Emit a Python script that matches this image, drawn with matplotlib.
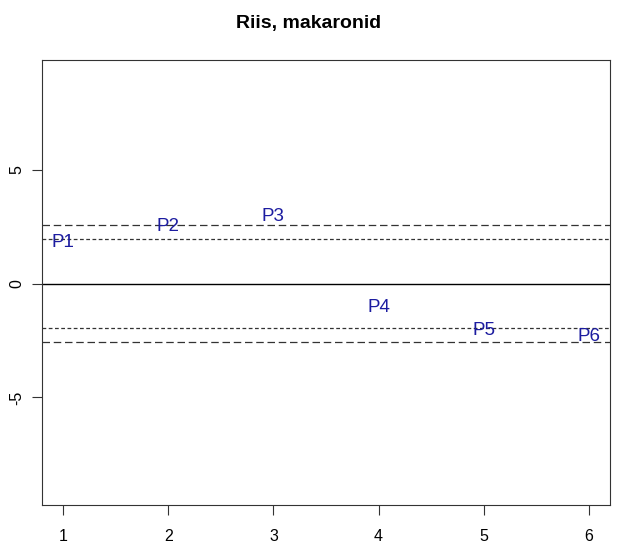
import matplotlib
matplotlib.use('Agg')
import matplotlib.pyplot as plt

plt.rcParams['font.family'] = ['Liberation Sans', 'DejaVu Sans']

# standardized residuals per product
labels = ['P1', 'P2', 'P3', 'P4', 'P5', 'P6']
x = [1, 2, 3, 4, 5, 6]
y = [1.80, 2.52, 2.96, -1.05, -2.06, -2.34]

# critical values
inner = 1.96
outer = 2.58

fig = plt.figure(figsize=(6.17, 5.45), dpi=100)
ax = fig.add_axes([0.068, 0.0734, 0.9207, 0.8166])

for lab, xi, yi in zip(labels, x, y):
    ax.text(xi, yi, lab, color='#1c1ca0', fontsize=13.5, ha='center', va='center')

ax.axhline(0, color='black', lw=1)
for v in (inner, -inner):
    ax.axhline(v, color='#333333', lw=0.9, ls=(0, (3, 2)))
for v in (outer, -outer):
    ax.axhline(v, color='#333333', lw=0.9, ls=(0, (6, 3)))

ax.set_xlim(0.8, 6.2)
ax.set_ylim(-9.72, 9.82)
ax.set_xticks(x)
ax.set_yticks([-5, 0, 5])
ax.set_yticklabels(['-5', '0', '5'], rotation=90, va='center')
ax.tick_params(length=7, labelsize=11.5, color='#333333')
ax.tick_params(axis='x', pad=10)
ax.tick_params(axis='y', pad=5.5)
for s in ax.spines.values():
    s.set_color('#333333')

fig.text(0.5, 0.9486, 'Riis, makaronid', ha='center', va='baseline',
         fontsize=14, fontweight='bold')

fig.savefig('out.png', dpi=100)
